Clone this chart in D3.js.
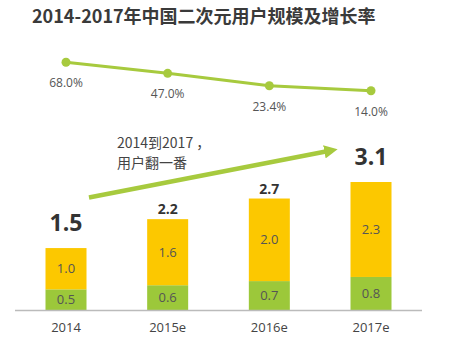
<!DOCTYPE html>
<html>
<head>
<meta charset="utf-8">
<script src="https://cdn.jsdelivr.net/npm/d3@7/dist/d3.min.js"></script>
<style>
  html, body { margin: 0; padding: 0; background: #fff; }
  svg { display: block; font-family: "Noto Sans CJK SC", "Open Sans", sans-serif; }
</style>
</head>
<body>
<svg id="chart" width="468" height="340"></svg>
<script>
// Years (x axis categories)
const years = ["2014", "2015e", "2016e", "2017e"];
// User scale (100 million), lower and upper stacked segments
const lowerSeg = [0.5, 0.6, 0.7, 0.8];
const upperSeg = [1.0, 1.6, 2.0, 2.3];
// Totals shown above the bars
const totals = [1.5, 2.2, 2.7, 3.1];
// Growth rate (%)
const growth = [68.0, 47.0, 23.4, 14.0];

const svg = d3.select("#chart");
const green = "#9cc83a";
const yellow = "#fcc800";
const lineGreen = "#a7ca3e";
const textGray = "#444";

// Title
svg.append("text")
  .attr("x", 32).attr("y", 23)
  .attr("font-size", 18).attr("font-weight", "bold")
  .attr("fill", "#3a3a3a")
  .text("2014-2017年中国二次元用户规模及增长率");

const x = d3.scalePoint().domain(years).range([66, 371]);
const y = d3.scaleLinear().domain([0, 3.1]).range([310, 182]);
const yLine = d3.scaleLinear().domain([14, 68]).range([90.7, 62.3]);
const barW = 41;

// Stacked bars
const rows = years.map((yr, i) => ({ year: yr, lower: lowerSeg[i], upper: upperSeg[i], total: totals[i] }));
const stack = d3.stack().keys(["lower", "upper"])(rows);
const colors = { lower: green, upper: yellow };

stack.forEach(layer => {
  svg.append("g").selectAll("rect").data(layer).join("rect")
    .attr("x", d => x(d.data.year) - barW / 2)
    .attr("y", d => y(d[1]))
    .attr("width", barW)
    .attr("height", d => y(d[0]) - y(d[1]))
    .attr("fill", colors[layer.key]);
  svg.append("g").selectAll("text").data(layer).join("text")
    .attr("x", d => x(d.data.year))
    .attr("y", d => (y(d[0]) + y(d[1])) / 2)
    .attr("dy", "0.36em")
    .attr("text-anchor", "middle")
    .attr("font-size", 13)
    .attr("font-family", "'Open Sans', sans-serif")
    .attr("fill", "#555")
    .text(d => d.data[layer.key].toFixed(1));
});

// Totals above bars (first and last emphasised)
const big = i => i === 0 || i === 3;
svg.append("g").selectAll("text").data(rows).join("text")
  .attr("x", d => x(d.year))
  .attr("y", (d, i) => y(d.total) - (big(i) ? 17 : 5))
  .attr("text-anchor", "middle")
  .attr("font-weight", "bold")
  .attr("font-family", "'Open Sans', sans-serif")
  .attr("font-size", (d, i) => big(i) ? 23 : 14)
  .attr("fill", "#333")
  .text(d => d.total.toFixed(1));

// Baseline
svg.append("line")
  .attr("x1", 15).attr("x2", 422)
  .attr("y1", y(0) + 0.5).attr("y2", y(0) + 0.5)
  .attr("stroke", "#bbb").attr("stroke-width", 1.5);

// X axis labels
svg.append("g").selectAll("text").data(years).join("text")
  .attr("x", d => x(d))
  .attr("y", 332)
  .attr("text-anchor", "middle")
  .attr("font-size", 13)
  .attr("font-family", "'Open Sans', sans-serif")
  .attr("fill", textGray)
  .text(d => d);

// Growth rate line
const pts = years.map((yr, i) => ({ year: yr, v: growth[i] }));
svg.append("path")
  .datum(pts)
  .attr("fill", "none")
  .attr("stroke", lineGreen)
  .attr("stroke-width", 3)
  .attr("d", d3.line().x(d => x(d.year)).y(d => yLine(d.v)));
svg.append("g").selectAll("circle").data(pts).join("circle")
  .attr("cx", d => x(d.year)).attr("cy", d => yLine(d.v))
  .attr("r", 4.5).attr("fill", lineGreen);
svg.append("g").selectAll("text").data(pts).join("text")
  .attr("x", d => x(d.year)).attr("y", d => yLine(d.v) + 25)
  .attr("text-anchor", "middle")
  .attr("font-size", 12)
  .attr("font-family", "'Open Sans', sans-serif")
  .attr("fill", "#555")
  .text(d => d.v.toFixed(1) + "%");

// Trend arrow with note
svg.append("defs").append("marker")
  .attr("id", "arrowHead")
  .attr("viewBox", "0 0 10 10")
  .attr("refX", 5).attr("refY", 5)
  .attr("markerWidth", 3).attr("markerHeight", 3)
  .attr("orient", "auto")
  .append("path").attr("d", "M0,0 L10,5 L0,10 Z").attr("fill", lineGreen);
svg.append("line")
  .attr("x1", x("2014") + 23).attr("y1", 197.5)
  .attr("x2", x("2017e") - 40).attr("y2", 150.5)
  .attr("stroke", lineGreen).attr("stroke-width", 4.5)
  .attr("marker-end", "url(#arrowHead)");
const note = svg.append("text")
  .attr("font-size", 14).attr("fill", textGray);
note.append("tspan").attr("x", 117).attr("y", 148).text("2014到2017 ，");
note.append("tspan").attr("x", 117).attr("y", 168).text("用户翻一番");
</script>
</body>
</html>
